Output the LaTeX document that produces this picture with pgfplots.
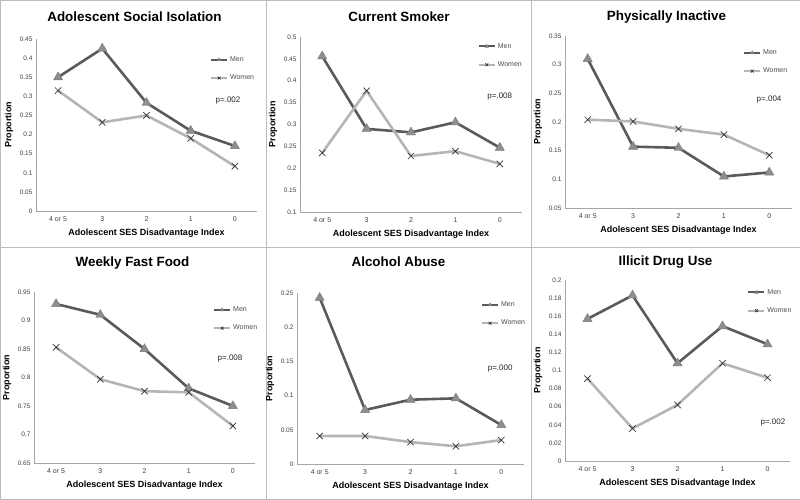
\documentclass[border=0pt]{standalone}
\usepackage{fontspec}
\setmainfont{Liberation Sans}
\usepackage{pgfplots}
\pgfplotsset{compat=1.18}

\definecolor{menline}{HTML}{5A5A5A}
\definecolor{menmark}{HTML}{8E8E8E}
\definecolor{womenline}{HTML}{B5B5B5}
\definecolor{frame}{HTML}{BDBDBD}
\definecolor{axisgray}{HTML}{A6A6A6}

\tikzset{pval/.style={font=\fontsize{8}{9}\selectfont, text=black!85}}

\pgfplotsset{
  panel/.style={
    scale only axis,
    axis x line=bottom, axis y line=left,
    axis line style={-, draw=axisgray, line width=0.8pt},
    xmin=-0.5, xmax=4.5,
    xtick={0,1,2,3,4},
    xticklabels={4 or 5,3,2,1,0},
    major tick length=0pt,
    tick label style={font=\fontsize{6.5}{7.5}\selectfont, text=black!75},
    /pgf/number format/fixed,
    /pgf/number format/precision=2,
    /pgf/number format/assume math mode=true,
    xticklabel style={yshift=-2.5pt, font=\fontsize{7}{8}\selectfont},
    xlabel={Adolescent SES Disadvantage Index},
    ylabel={Proportion},
    label style={font=\bfseries\fontsize{9}{10}\selectfont},
    xlabel style={at={([yshift=-22pt]axis description cs:0.5,0)}, anchor=center},
    ylabel style={at={([xshift=-27pt]axis description cs:0,0.5)}, anchor=center},
    title style={font=\bfseries\fontsize{13.4}{15}\selectfont, anchor=center},
    legend style={draw=none, fill=none, font=\fontsize{7}{8}\selectfont,
      text=black!70, anchor=west, row sep=8pt, inner sep=0pt},
    legend cell align=left,
    legend image code/.code={
      \draw[mark repeat=2, mark phase=2, #1, mark size=2pt, line width=2pt]
        plot coordinates {(0pt,0pt) (8pt,0pt) (16pt,0pt)};},
  },
  men/.style={color=menline, line width=2.6pt, line join=round,
    mark=triangle*, mark size=5.3pt,
    mark options={solid, fill=menmark, draw=menmark!85!black, line width=0.4pt}},
  women/.style={color=womenline, line width=2.6pt, line join=round,
    mark=x, mark size=4.5pt,
    mark options={solid, draw=black!80, line width=0.7pt}},
}

\begin{document}
\begin{tikzpicture}
\useasboundingbox (0,0) rectangle (800pt,499pt);
% panel frames
\draw[frame, line width=0.8pt] (0pt,252pt) rectangle (266pt,499pt);
\draw[frame, line width=0.8pt] (266pt,252pt) rectangle (531pt,499pt);
\draw[frame, line width=0.8pt] (531pt,252pt) rectangle (800pt,499pt);
\draw[frame, line width=0.8pt] (0pt,0pt) rectangle (266pt,252pt);
\draw[frame, line width=0.8pt] (266pt,0pt) rectangle (531pt,252pt);
\draw[frame, line width=0.8pt] (531pt,0pt) rectangle (800pt,252pt);

% Adolescent Social Isolation
\begin{axis}[panel, at={(36pt,288pt)}, width=221pt, height=172pt,
  ymin=0, ymax=0.45, ytick={0,0.05,0.1,0.15,0.2,0.25,0.3,0.35,0.4,0.45},
  title={Adolescent Social Isolation},
  title style={at={([xshift=-12pt,yshift=16pt]axis description cs:0.5,1)}, anchor=center},
  legend style={at={(0.787,0.826)}}]
\addplot[men] coordinates {(0,0.35) (1,0.425) (2,0.283) (3,0.21) (4,0.17)};
\addplot[women] coordinates {(0,0.315) (1,0.232) (2,0.25) (3,0.19) (4,0.117)};
\legend{Men,Women}
\node[pval] at (rel axis cs:0.869,0.645) {p=.002};
\end{axis}

% Current Smoker
\begin{axis}[panel, at={(300pt,287pt)}, width=222pt, height=175pt,
  ymin=0.1, ymax=0.5, ytick={0.1,0.15,0.2,0.25,0.3,0.35,0.4,0.45,0.5},
  title={Current Smoker},
  title style={at={([xshift=-12pt,yshift=14pt]axis description cs:0.5,1)}, anchor=center},
  legend style={at={(0.80,0.894)}}]
\addplot[men] coordinates {(0,0.456) (1,0.29) (2,0.282) (3,0.305) (4,0.247)};
\addplot[women] coordinates {(0,0.235) (1,0.377) (2,0.228) (3,0.239) (4,0.21)};
\legend{Men,Women}
\node[pval] at (rel axis cs:0.90,0.657) {p=.008};
\end{axis}

% Physically Inactive
\begin{axis}[panel, at={(565pt,291pt)}, width=227pt, height=172pt,
  ymin=0.05, ymax=0.35, ytick={0.05,0.1,0.15,0.2,0.25,0.3,0.35},
  title={Physically Inactive},
  title style={at={([xshift=-12pt,yshift=13pt]axis description cs:0.5,1)}, anchor=center},
  legend style={at={(0.784,0.849)}}]
\addplot[men] coordinates {(0,0.31) (1,0.157) (2,0.155) (3,0.105) (4,0.112)};
\addplot[women] coordinates {(0,0.204) (1,0.201) (2,0.188) (3,0.178) (4,0.142)};
\legend{Men,Women}
\node[pval] at (rel axis cs:0.899,0.628) {p=.004};
\end{axis}

% Weekly Fast Food
\begin{axis}[panel, at={(34pt,36pt)}, width=221pt, height=171pt,
  ymin=0.65, ymax=0.95, ytick={0.65,0.7,0.75,0.8,0.85,0.9,0.95},
  title={Weekly Fast Food},
  title style={at={([xshift=-12pt,yshift=23pt]axis description cs:0.5,1)}, anchor=center},
  legend style={at={(0.81,0.842)}}]
\addplot[men] coordinates {(0,0.929) (1,0.91) (2,0.85) (3,0.781) (4,0.75)};
\addplot[women] coordinates {(0,0.853) (1,0.797) (2,0.776) (3,0.774) (4,0.715)};
\legend{Men,Women}
\node[pval] at (rel axis cs:0.887,0.608) {p=.008};
\end{axis}

% Alcohol Abuse
\begin{axis}[panel, at={(297pt,35pt)}, width=227pt, height=171pt,
  ymin=0, ymax=0.25, ytick={0,0.05,0.1,0.15,0.2,0.25},
  title={Alcohol Abuse},
  title style={at={([xshift=-12pt,yshift=25pt]axis description cs:0.5,1)}, anchor=center},
  legend style={at={(0.81,0.877)}}]
\addplot[men] coordinates {(0,0.243) (1,0.079) (2,0.094) (3,0.096) (4,0.057)};
\addplot[women] coordinates {(0,0.041) (1,0.041) (2,0.032) (3,0.026) (4,0.035)};
\legend{Men,Women}
\node[pval] at (rel axis cs:0.895,0.556) {p=.000};
\end{axis}

% Illicit Drug Use
\begin{axis}[panel, at={(565pt,38pt)}, width=225pt, height=181pt,
  ymin=0, ymax=0.2, ytick={0,0.02,0.04,0.06,0.08,0.1,0.12,0.14,0.16,0.18,0.2},
  title={Illicit Drug Use},
  title style={at={([xshift=-12pt,yshift=12pt]axis description cs:0.5,1)}, anchor=center},
  legend style={at={(0.81,0.881)}}]
\addplot[men] coordinates {(0,0.157) (1,0.183) (2,0.108) (3,0.149) (4,0.129)};
\addplot[women] coordinates {(0,0.091) (1,0.036) (2,0.062) (3,0.108) (4,0.092)};
\legend{Men,Women}
\node[pval] at (rel axis cs:0.924,0.215) {p=.002};
\end{axis}
\end{tikzpicture}
\end{document}
